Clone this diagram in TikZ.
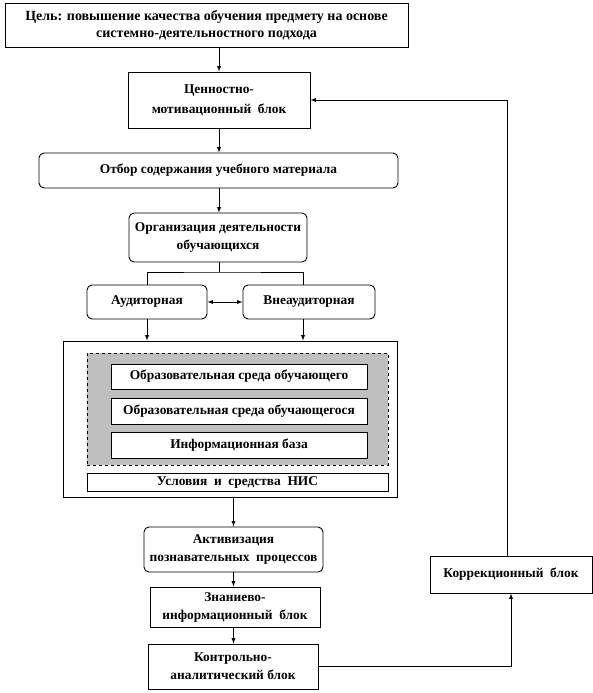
\documentclass[tikz,border=0pt]{standalone}
\usepackage{fontspec}
\setmainfont{Liberation Serif}
\usetikzlibrary{positioning,arrows}

\begin{document}
\begin{tikzpicture}[
		x=1pt,y=-1pt,
		box/.style={
			draw,
			line width=0.9pt,
			fill=white,
			inner sep=1pt,
			align=center,
			font=\fontsize{13.4}{18}\selectfont\bfseries
		},
		rbox/.style={
			box,
			rounded corners=5pt
		},
		plain/.style={
			draw,
			line width=0.9pt,
			fill=none,
			inner sep=0pt
		},
		shade/.style={
			draw,
			line width=0.9pt,
			dashed,
			fill=black!25,
			inner sep=0pt
		},
		line/.style={
			line width=0.9pt
		},
		>=latex
		]
		\useasboundingbox (0,0) rectangle (593,693);
		% goal and first blocks
		\node[box,minimum width=403pt,minimum height=44pt,font=\fontsize{14}{17}\selectfont\bfseries] (goal) at (206.5,25)
			{Цель: повышение качества обучения предмету на основе\\системно-деятельностного подхода};
		\node[box,minimum width=182pt,minimum height=56pt,font=\fontsize{13.4}{20}\selectfont\bfseries] (cenn) at (219,100) {Ценностно-\\мотивационный~~блок};
		\node[rbox,minimum width=359pt,minimum height=35pt] (otbor) at (218.5,170.5) {Отбор содержания учебного материала};
		\node[rbox,minimum width=178pt,minimum height=49pt] (org) at (218,237.5) {Организация деятельности\\обучающихся};
		\node[rbox,minimum width=120pt,minimum height=34pt] (aud) at (147,302) {Аудиторная};
		\node[rbox,minimum width=132pt,minimum height=34pt] (vne) at (309,302) {Внеаудиторная};
		% environment block
		\node[plain,minimum width=334pt,minimum height=156pt] (outer) at (230,419) {};
		\node[shade,minimum width=301pt,minimum height=112pt] (env) at (237.5,409) {};
		\node[box,minimum width=256pt,minimum height=25pt] (sr1) at (239,376.5) {Образовательная среда обучающего};
		\node[box,minimum width=256pt,minimum height=26pt] (sr2) at (239,411) {Образовательная среда обучающегося};
		\node[box,minimum width=256pt,minimum height=26pt] (info) at (239,445) {Информационная база};
		\node[box,minimum width=301pt,minimum height=18pt] (usl) at (237.5,482) {Условия~~и~~средства~~НИС};
		% lower blocks
		\node[rbox,minimum width=179pt,minimum height=45pt] (akt) at (233.5,549.5) {Активизация\\познавательных~~процессов};
		\node[box,minimum width=170pt,minimum height=40pt] (zn) at (235,607) {Знаниево-\\информационный~~блок};
		\node[box,minimum width=170pt,minimum height=45pt] (kontr) at (233,666.5) {Контрольно-\\аналитический блок};
		\node[box,minimum width=162pt,minimum height=37pt] (korr) at (511,574.5) {Коррекционный~~блок};
		% connectors
		\draw[line,->] (cenn.north |- goal.south) -- (cenn.north);
		\draw[line,->] (cenn.south) -- (cenn.south |- otbor.north);
		\draw[line,->] (cenn.south |- otbor.south) -- (cenn.south |- org.north);
		\coordinate (fork) at (219,272);
		\coordinate (vdown) at (303,0);
		\draw[line] (fork |- org.south) -- (fork);
		\draw[line] (aud.north) |- (fork) -| (vdown |- vne.north);
		\draw[line,<->] (aud.east) -- (vne.west);
		\draw[line,->] (aud.south) -- (aud.south |- outer.north);
		\draw[line,->] (vdown |- vne.south) -- (vdown |- outer.north);
		\draw[line,->] (akt.north |- outer.south) -- (akt.north);
		\draw[line,->] (akt.south) -- (akt.south |- zn.north);
		\draw[line,->] (akt.south |- zn.south) -- (akt.south |- kontr.north);
		\draw[line,->] (kontr.east) -| (korr.south);
		\draw[line,->] ([xshift=-4pt]korr.north) |- (cenn.east);
\end{tikzpicture}
\end{document}
